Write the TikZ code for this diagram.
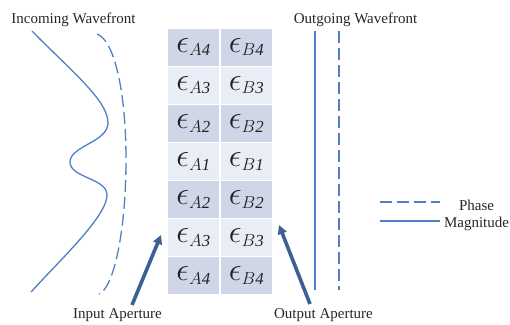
\documentclass[tikz,border=0pt]{standalone}
\usepackage{fontspec}
\setmainfont{Liberation Serif}
\usetikzlibrary{arrows.meta}
\definecolor{wave}{HTML}{4F7FC4}
\definecolor{pointer}{HTML}{3D6094}
\definecolor{celldark}{HTML}{CFD6E8}
\definecolor{celllight}{HTML}{E9EDF5}
\definecolor{celltext}{HTML}{222222}
\tikzset{
  cell/.style={draw=white, line width=1.2pt, minimum width=53pt, minimum height=38.1pt,
    inner sep=0pt, text=celltext, font=\fontsize{24}{24}\selectfont},
  darkcell/.style={cell, fill=celldark},
  lightcell/.style={cell, fill=celllight},
  magline/.style={draw=wave, line width=1.3pt},
  phaseline/.style={draw=wave, line width=1.3pt, dash pattern=on 12pt off 5pt},
  pointerarrow/.style={draw=pointer, line width=3.6pt, -{Triangle[length=9pt,width=9pt]}},
  lbl/.style={font=\fontsize{15}{15}\selectfont, text=black!85, inner sep=0pt, anchor=base},
}
% permittivity symbol with an enlarged epsilon and an italic index
\newcommand{\eps}[2]{$\scalebox{1.3}{$\epsilon$}_{#1\mathit{#2}}$}
\begin{document}
\begin{tikzpicture}[x=1pt,y=-1pt]
\useasboundingbox (0,0) rectangle (510,324);

% permittivity table, rows from top to bottom
\foreach \n/\d/\s [count=\i from 0] in {t4/4/darkcell, t3/3/lightcell, t2/2/darkcell,
    m1/1/lightcell, b2/2/darkcell, b3/3/lightcell, b4/4/darkcell} {
  \node[\s] (A\n) at (193.5, {28+38.1*(\i+0.5)}) {\eps{A}{\d}};
  \node[\s] (B\n) at (246.5, {28+38.1*(\i+0.5)}) {\eps{B}{\d}};
}

% incoming wavefront: magnitude (solid) and phase (dashed)
\coordinate (inTop) at (32,31);
\coordinate (inEnd) at (31,292);
\path[magline] (inTop) .. controls (70,70) and (108,100) .. (108,123)
  .. controls (108,142) and (70,146) .. (70,162)
  .. controls (70,178) and (107,178) .. (107,195)
  .. controls (107,216) and (62,258) .. (inEnd);
\coordinate (phTop) at (97,34);
\coordinate (phEnd) at (99,294);
\path[phaseline] (phTop) .. controls (114,40) and (126,90) .. (126,160)
  .. controls (126,230) and (114,288) .. (phEnd);

% outgoing wavefront
\coordinate (oMagTop) at (315,31);
\coordinate (oMagBot) at (315,290);
\coordinate (oPhTop) at (339,31);
\coordinate (oPhBot) at (339,290);
\path[magline] (oMagTop) -- (oMagBot);
\path[phaseline] (oPhTop) -- (oPhBot);

% labels
\node[lbl] (inLbl) at (73.5,23) {Incoming Wavefront};
\node[lbl] (outLbl) at (355.5,23) {Outgoing Wavefront};
\node[lbl] (inAp) at (117.5,318) {Input Aperture};
\node[lbl] (outAp) at (323.5,318) {Output Aperture};

% aperture pointers
\coordinate (inTip) at (161,235);
\coordinate (inTail) at (132,305);
\coordinate (outTip) at (279,225);
\coordinate (outTail) at (310,304);
\draw[pointerarrow] (inTail) -- (inTip);
\draw[pointerarrow] (outTail) -- (outTip);

% legend
\coordinate (lgPhA) at (380,202);
\coordinate (lgPhB) at (440,202);
\coordinate (lgMagA) at (380,221);
\coordinate (lgMagB) at (440,221);
\path[phaseline] (lgPhA) -- (lgPhB);
\path[magline] (lgMagA) -- (lgMagB);
\node[lbl] (phLbl) at (476.5,210) {Phase};
\node[lbl] (magLbl) at (476.5,227) {Magnitude};
\end{tikzpicture}
\end{document}
